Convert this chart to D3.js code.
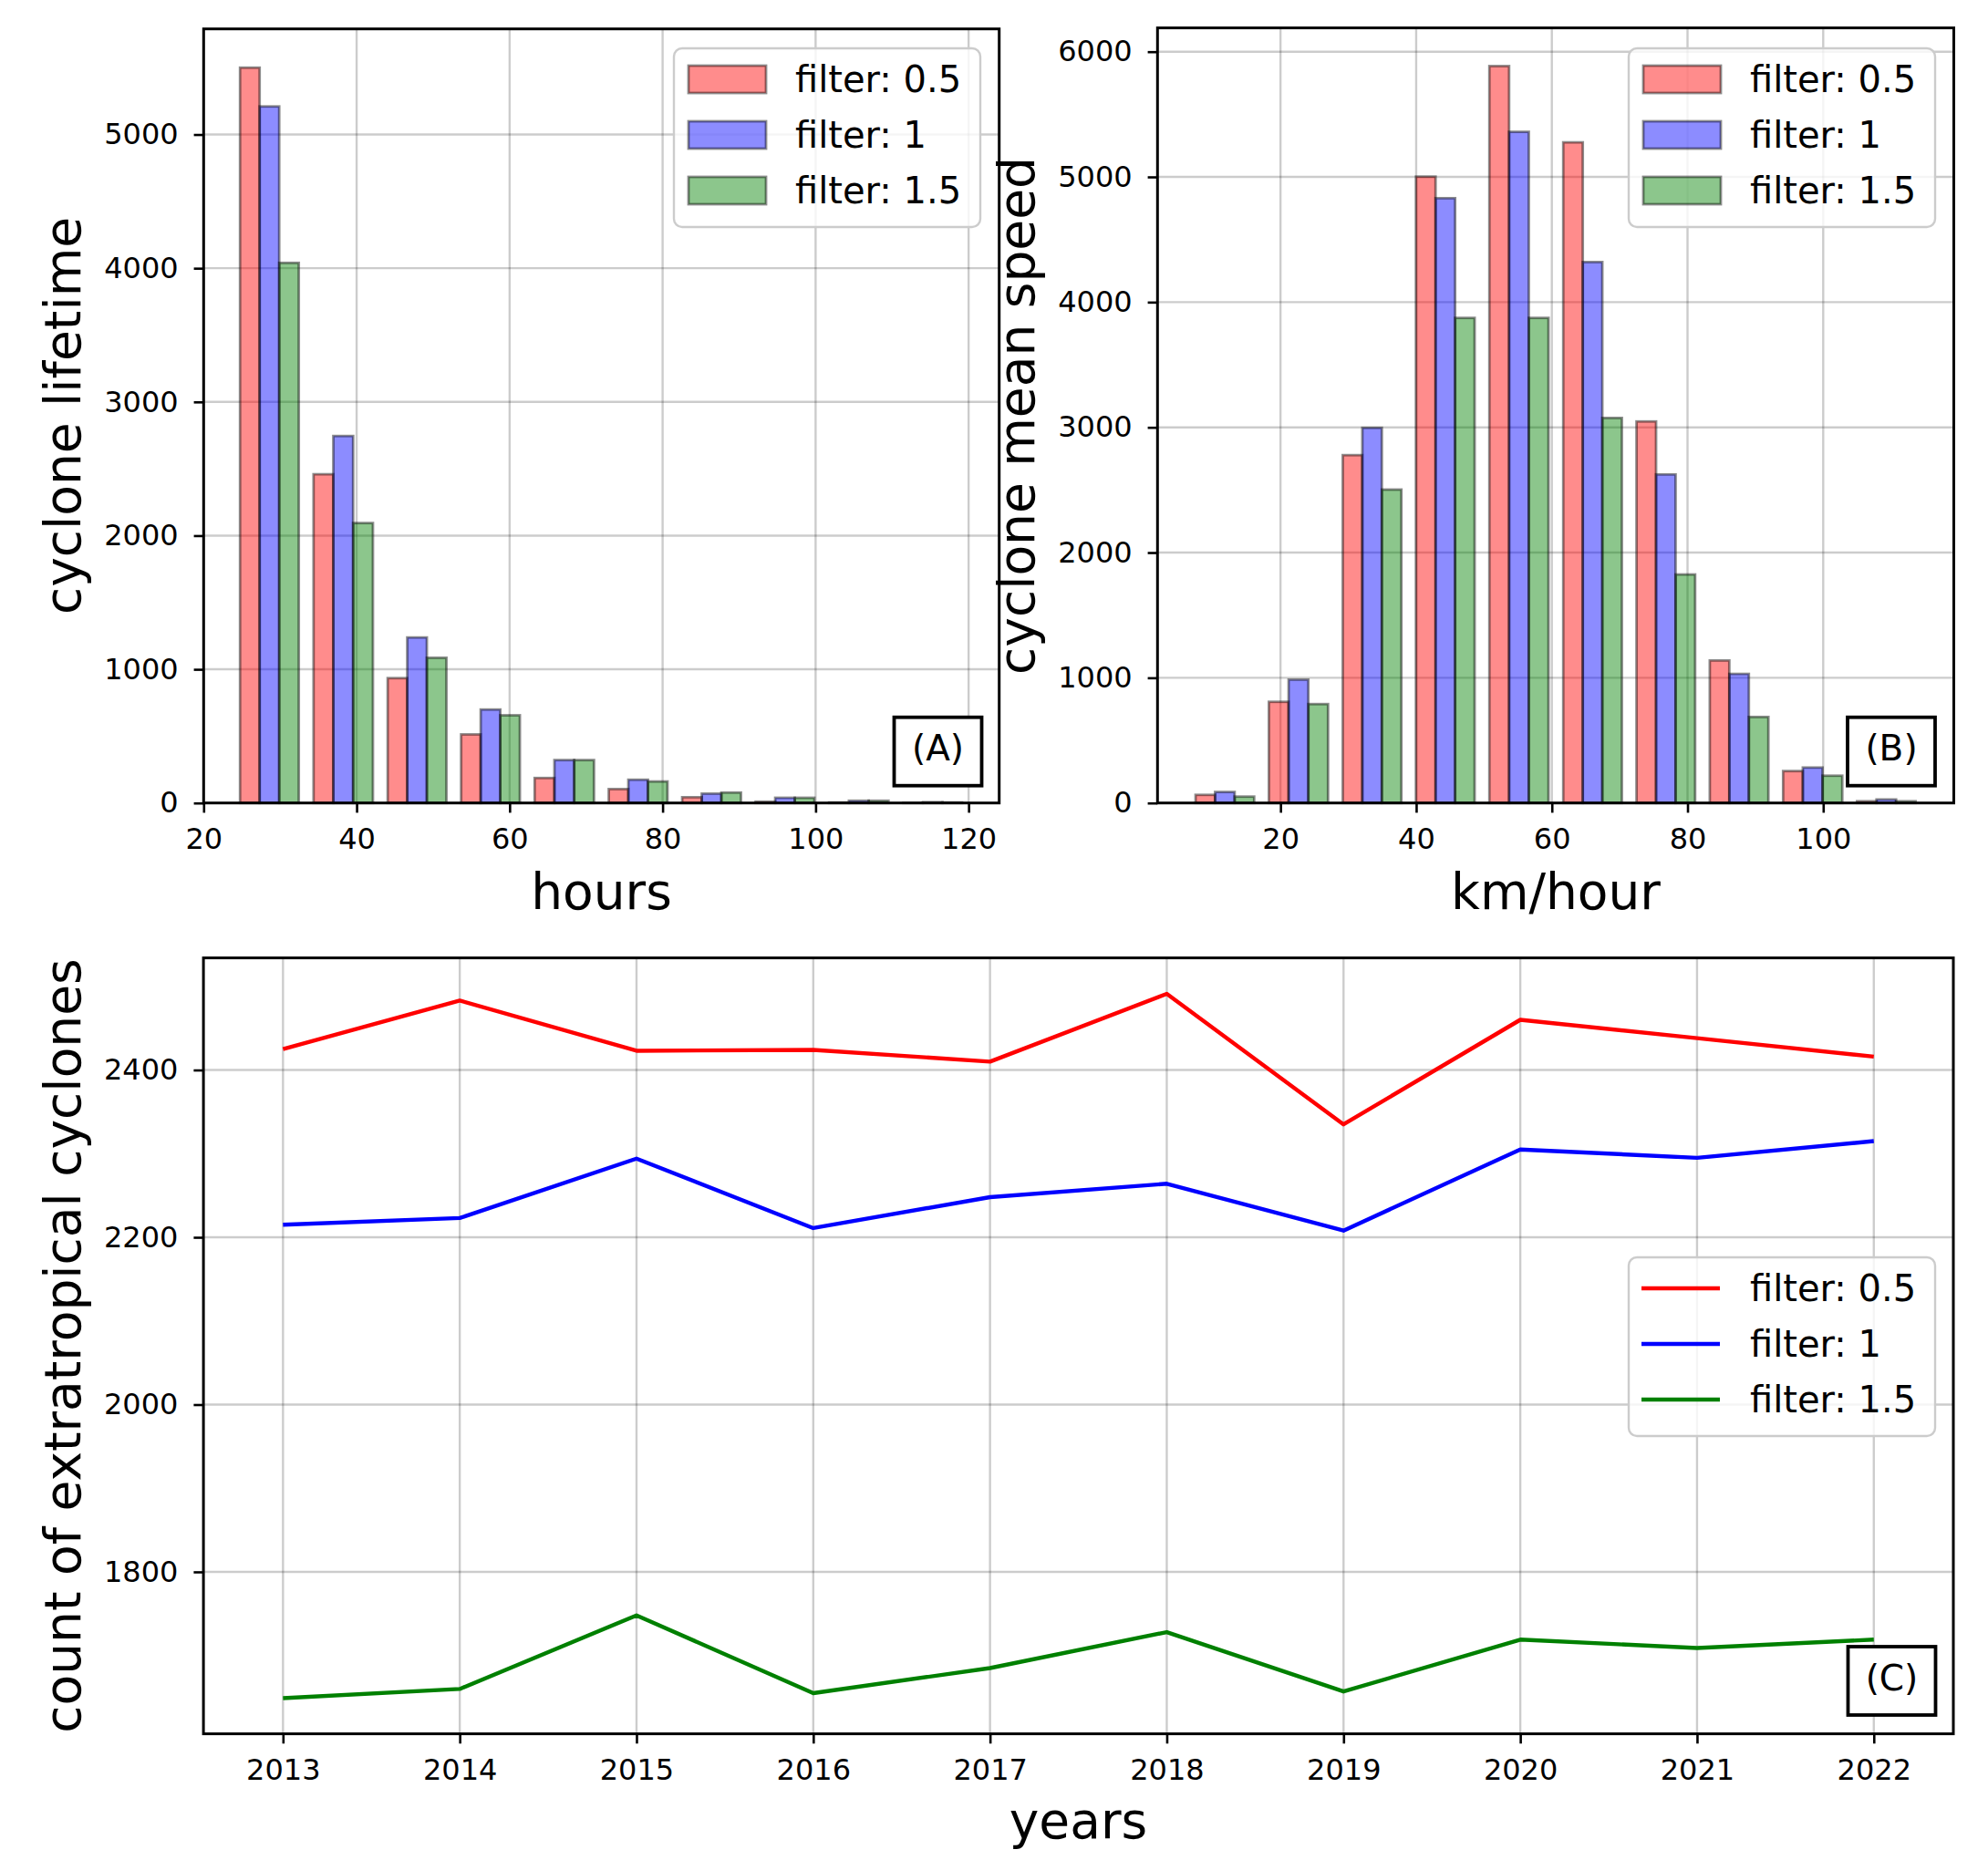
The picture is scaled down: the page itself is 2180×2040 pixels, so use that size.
<!DOCTYPE html>
<html>
<head>
<meta charset="utf-8">
<script src="https://cdn.jsdelivr.net/npm/d3@7"></script>
<style>
  body { margin: 0; background: #fff; }
  text { font-family: "DejaVu Sans", sans-serif; }
</style>
</head>
<body>
<script>
const width = 2180;
const height = 2040;

// data
const seriesNames = ['filter: 0.5', 'filter: 1', 'filter: 1.5'];
const barColors = ['rgba(255,0,0,0.45)', 'rgba(0,0,255,0.45)', 'rgba(0,128,0,0.45)'];
const lineColors = ['#ff0000', '#0000ff', '#008000'];

// (A) lifetime histogram, hours
const lifetimeEdges = [23.8, 33.4, 43.1, 52.7, 62.3, 72.0, 81.6, 91.2, 100.8, 110.5, 120.1];
const lifetime05 = [5500, 2459, 934, 513, 187, 104, 43, 10, 4, 2];
const lifetime1 = [5210, 2745, 1238, 699, 321, 174, 70, 39, 17, 6];
const lifetime15 = [4040, 2094, 1086, 656, 321, 161, 78, 39, 17, 4];
const lifetimeXTicks = [20, 40, 60, 80, 100, 120];
const lifetimeYTicks = [0, 1000, 2000, 3000, 4000, 5000];

// (B) mean speed histogram, km/hour
const speedEdges = [6.4, 17.2, 28.1, 38.9, 49.7, 60.6, 71.4, 82.2, 93.0, 103.9, 114.7];
const speed05 = [65, 808, 2778, 5002, 5885, 5276, 3047, 1138, 255, 14];
const speed1 = [88, 985, 2996, 4830, 5360, 4320, 2624, 1031, 283, 28];
const speed15 = [51, 790, 2503, 3874, 3874, 3075, 1825, 687, 218, 14];
const speedXTicks = [20, 40, 60, 80, 100];
const speedYTicks = [0, 1000, 2000, 3000, 4000, 5000, 6000];

// (C) yearly counts
const years = [2013, 2014, 2015, 2016, 2017, 2018, 2019, 2020, 2021, 2022];
const count05 = [2425, 2483, 2423, 2424, 2410, 2491, 2335, 2460, 2438, 2416];
const count1 = [2215, 2223, 2294, 2211, 2248, 2264, 2208, 2305, 2295, 2315];
const count15 = [1649, 1660, 1748, 1655, 1685, 1728, 1657, 1719, 1709, 1719];
const countYTicks = [1800, 2000, 2200, 2400];

const svg = d3.select('body').append('svg')
  .attr('width', width)
  .attr('height', height);
svg.append('rect').attr('width', width).attr('height', height).attr('fill', '#fff');

const tickFont = 32;
const labelFont = 55;
const legendFont = 40;

// shared helpers
function grid(g, x, y, xt, yt) {
  const [x0, x1] = x.range();
  const [y0, y1] = y.range();
  g.selectAll('line.gx').data(xt).enter().append('line')
    .attr('x1', d => x(d)).attr('x2', d => x(d))
    .attr('y1', y0).attr('y2', y1)
    .attr('stroke', '#000').attr('stroke-opacity', 0.2).attr('stroke-width', 2.4);
  g.selectAll('line.gy').data(yt).enter().append('line')
    .attr('x1', x0).attr('x2', x1)
    .attr('y1', d => y(d)).attr('y2', d => y(d))
    .attr('stroke', '#000').attr('stroke-opacity', 0.2).attr('stroke-width', 2.4);
}

function axes(g, x, y, xt, yt, fmt) {
  const [x0, x1] = x.range();
  const [y0, y1] = y.range();
  const ax = g.append('g').attr('transform', `translate(0,${y0})`)
    .call(d3.axisBottom(x).tickValues(xt).tickFormat(fmt || d3.format('d')).tickSize(10.7).tickPadding(16.5));
  const ay = g.append('g').attr('transform', `translate(${x0},0)`)
    .call(d3.axisLeft(y).tickValues(yt).tickFormat(d3.format('d')).tickSize(10.7).tickPadding(17));
  [ax, ay].forEach(a => {
    a.select('.domain').remove();
    a.selectAll('line').attr('stroke', '#000').attr('stroke-width', 2.6);
    a.selectAll('text').attr('fill', '#000')
      .style('font-family', '"DejaVu Sans", sans-serif').style('font-size', tickFont + 'px');
  });
  g.append('rect')
    .attr('x', x0).attr('y', y1)
    .attr('width', x1 - x0).attr('height', y0 - y1)
    .attr('fill', 'none').attr('stroke', '#000').attr('stroke-width', 3);
}

function xLabel(text, x, baseline) {
  svg.append('text').attr('x', x).attr('y', baseline)
    .attr('text-anchor', 'middle').style('font-size', labelFont + 'px').text(text);
}
function yLabel(text, baselineX, cy) {
  svg.append('text').attr('transform', `translate(${baselineX},${cy}) rotate(-90)`)
    .attr('text-anchor', 'middle').style('font-size', labelFont + 'px').text(text);
}

function tag(text, right, bottom) {
  const w = 96, h = 75;
  svg.append('rect').attr('x', right - w).attr('y', bottom - h)
    .attr('width', w).attr('height', h)
    .attr('fill', '#fff').attr('stroke', '#000').attr('stroke-width', 3.8);
  svg.append('text').attr('x', right - w / 2).attr('y', bottom - 27.4)
    .attr('text-anchor', 'middle')
    .style('font-size', '39px').text(text);
}

function legend(left, top, kind) {
  const g = svg.append('g').attr('transform', `translate(${left},${top})`);
  g.append('rect').attr('width', 336).attr('height', 196).attr('rx', 9)
    .attr('fill', '#fff').attr('fill-opacity', 0.8)
    .attr('stroke', '#cccccc').attr('stroke-width', 2.4);
  const rows = g.selectAll('g.row').data(seriesNames).enter().append('g')
    .attr('transform', (d, i) => `translate(0,${34 + i * 61})`);
  if (kind === 'bar') {
    rows.append('rect').attr('x', 16).attr('y', -15).attr('width', 85).attr('height', 30)
      .attr('fill', (d, i) => barColors[i])
      .attr('stroke', 'rgba(0,0,0,0.45)').attr('stroke-width', 2.8);
  } else {
    rows.append('line').attr('x1', 14).attr('x2', 100).attr('y1', 0).attr('y2', 0)
      .attr('stroke', (d, i) => lineColors[i]).attr('stroke-width', 4.4);
  }
  rows.append('text').attr('x', 133).attr('y', 14)
    .style('font-size', legendFont + 'px').text(d => d);
}

function histogram(x, y, edges, series) {
  const g = svg.append('g');
  series.forEach((vals, k) => {
    g.selectAll(null).data(vals).enter().append('rect')
      .attr('x', (d, i) => {
        const w = edges[i + 1] - edges[i];
        return x(edges[i] + w * (0.1 + k * 0.8 / 3));
      })
      .attr('width', (d, i) => {
        const w = edges[i + 1] - edges[i];
        return x(edges[i] + w * 0.8 / 3) - x(edges[i]);
      })
      .attr('y', d => y(d))
      .attr('height', d => y(0) - y(d))
      .attr('fill', barColors[k])
      .attr('stroke', 'rgba(0,0,0,0.45)')
      .attr('stroke-width', 2.8);
  });
}

// ---------- panel A ----------
const xA = d3.scaleLinear().domain([20, 124]).range([223.3, 1095.7]);
const yA = d3.scaleLinear().domain([0, 5790]).range([880.7, 31.7]);
const gA = svg.append('g');
grid(gA, xA, yA, lifetimeXTicks, lifetimeYTicks);
histogram(xA, yA, lifetimeEdges, [lifetime05, lifetime1, lifetime15]);
axes(svg.append('g'), xA, yA, lifetimeXTicks, lifetimeYTicks);
legend(739, 53, 'bar');
tag('(A)', 1076.5, 861.7);
xLabel('hours', 659.5, 997);
yLabel('cyclone lifetime', 88, 456);

// ---------- panel B ----------
const xB = d3.scaleLinear().domain([1.87, 119.25]).range([1269.3, 2142.5]);
const yB = d3.scaleLinear().domain([0, 6190]).range([880.7, 30.6]);
const gB = svg.append('g');
grid(gB, xB, yB, speedXTicks, speedYTicks);
histogram(xB, yB, speedEdges, [speed05, speed1, speed15]);
axes(svg.append('g'), xB, yB, speedXTicks, speedYTicks);
legend(1786, 53, 'bar');
tag('(B)', 2122, 861.7);
xLabel('km/hour', 1706, 997);
yLabel('cyclone mean speed', 1134, 456);

// ---------- panel C ----------
const xC = d3.scaleLinear().domain([2012.55, 2022.45]).range([223.1, 2142]);
const yC = d3.scaleLinear().domain([1606.4, 2534]).range([1901.6, 1050.6]);
const gC = svg.append('g');
grid(gC, xC, yC, years, countYTicks);
const line = d3.line().x(d => xC(d[0])).y(d => yC(d[1]));
[count05, count1, count15].forEach((vals, k) => {
  svg.append('path')
    .datum(years.map((yr, i) => [yr, vals[i]]))
    .attr('d', line)
    .attr('fill', 'none')
    .attr('stroke', lineColors[k])
    .attr('stroke-width', 4.4)
    .attr('stroke-linejoin', 'round');
});
axes(svg.append('g'), xC, yC, years, countYTicks);
legend(1786, 1379, 'line');
tag('(C)', 2122.5, 1881);
xLabel('years', 1182.5, 2016);
yLabel('count of extratropical cyclones', 88, 1476);
</script>
</body>
</html>
